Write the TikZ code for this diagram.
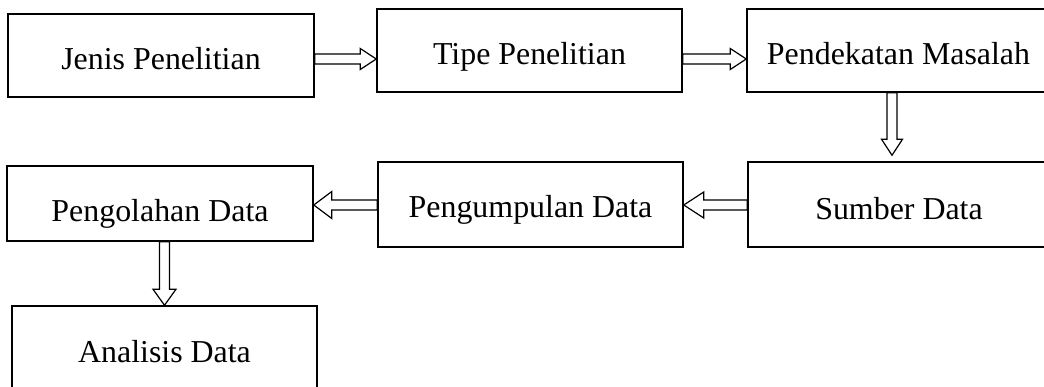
\documentclass[tikz,border=0pt]{standalone}
\usepackage{fontspec}
\setmainfont{Liberation Serif}
\usetikzlibrary{calc}
\newcommand\blockarrow[5]{%
  \coordinate (#1h) at ($(#3)!#4!(#2)$);
  \draw[arrowline] ($(#2)!5pt!90:(#3)$) -- ($(#1h)!5pt!-90:(#2)$) -- ($(#1h)!#5!-90:(#2)$) -- (#3) -- ($(#1h)!#5!90:(#2)$) -- ($(#1h)!5pt!90:(#2)$) -- ($(#2)!5pt!-90:(#3)$) -- cycle;}
\tikzset{
  box/.style={draw, line width=1.5pt, inner sep=0pt},
  lbl/.style={anchor=base, inner sep=0pt, font=\fontsize{31.9pt}{38pt}\selectfont},
  arrowline/.style={draw, line width=1.2pt, line join=miter}
}
\begin{document}
\begin{tikzpicture}[x=1pt,y=-1pt]
\useasboundingbox[fill=white] (0,0) rectangle (1044,387);
% boxes
\node[box, minimum width=306pt, minimum height=83pt] (b1) at (161,55.5) {};
\node[box, minimum width=305pt, minimum height=83pt] (b2) at (529.5,50.5) {};
\node[box, minimum width=333pt, minimum height=83pt] (b3) at (913.5,50.5) {};
\node[box, minimum width=332pt, minimum height=85pt] (b4) at (914,204.5) {};
\node[box, minimum width=305pt, minimum height=85pt] (b5) at (530.5,204.5) {};
\node[box, minimum width=306pt, minimum height=75pt] (b6) at (160,203.5) {};
\node[box, minimum width=305pt, minimum height=94pt] (b7) at (164.5,353) {};
% labels
\node[lbl] (t1) at ([yshift=-14.5pt]b1.center) {Jenis Penelitian};
\node[lbl] (t2) at ([yshift=-14.5pt]b2.center) {Tipe Penelitian};
\node[lbl] (t3) at ([xshift=-15pt,yshift=-14.5pt]b3.center) {Pendekatan Masalah};
\node[lbl] (t4) at ([xshift=-15pt,yshift=-15.5pt]b4.center) {Sumber Data};
\node[lbl] (t5) at ([yshift=-13.5pt]b5.center) {Pengumpulan Data};
\node[lbl] (t6) at ([yshift=-18.5pt]b6.center) {Pengolahan Data};
\node[lbl] (t7) at ([yshift=-9pt]b7.center) {Analisis Data};
% arrows
\coordinate (a1s) at ([yshift=-3.5pt]b1.east);
\coordinate (a1e) at (a1s -| b2.west);
\blockarrow{a1}{a1s}{a1e}{16pt}{10.5pt}
\coordinate (a2s) at ([yshift=-8.5pt]b2.east);
\coordinate (a2e) at (a2s -| b3.west);
\blockarrow{a2}{a2s}{a2e}{16pt}{10.5pt}
\coordinate (a3s) at ([xshift=-21.5pt]b3.south);
\coordinate (a3e) at ([yshift=6pt]a3s |- b4.north);
\blockarrow{a3}{a3s}{a3e}{16pt}{10.5pt}
\coordinate (a4s) at ([yshift=-0.5pt]b4.west);
\coordinate (a4e) at (a4s -| b5.east);
\blockarrow{a4}{a4s}{a4e}{20pt}{13pt}
\coordinate (a5s) at ([yshift=-0.5pt]b5.west);
\coordinate (a5e) at (a5s -| b6.east);
\blockarrow{a5}{a5s}{a5e}{18pt}{13.5pt}
\coordinate (a6s) at ([xshift=4.5pt]b6.south);
\coordinate (a6e) at (a6s |- b7.north);
\blockarrow{a6}{a6s}{a6e}{16pt}{11.5pt}
\end{tikzpicture}
\end{document}
